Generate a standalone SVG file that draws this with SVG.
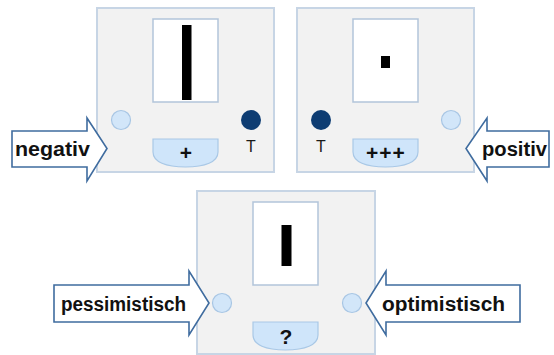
<svg xmlns="http://www.w3.org/2000/svg" width="554" height="355" viewBox="0 0 554 355">
<style>
.panel{fill:#f2f2f2;stroke:#c7d5e5;stroke-width:2}
.screen{fill:#ffffff;stroke:#b2c5da;stroke-width:1.5}
.bar{fill:#000000}
.lite{fill:#d2e6f9;stroke:#a8c6e4;stroke-width:1.2}
.dark{fill:#0e3d73}
.pill{fill:#cfe5fa;stroke:#a9c8e6;stroke-width:1.2}
.lbl{font-family:"Liberation Sans",Arial,sans-serif;font-size:16px;fill:#1a1a1a}
.sym{font-family:"Liberation Sans",Arial,sans-serif;font-size:21px;font-weight:bold;fill:#111111;text-anchor:middle}
.arrow{fill:#ffffff;stroke:#3f6c9f;stroke-width:1.6;stroke-linejoin:miter}
.word{font-family:"Liberation Sans",Arial,sans-serif;font-size:20px;font-weight:bold;fill:#111111}
</style>
<g id="panel-negativ">
<rect class="panel" x="97" y="8" width="177" height="164"/>
<rect class="screen" x="153" y="19" width="65" height="83"/>
<rect class="bar" x="182" y="25" width="9.5" height="75"/>
<circle class="lite" cx="121" cy="120" r="9.5"/>
<circle class="dark" cx="251" cy="120" r="10"/>
<text class="lbl" x="251" y="152" text-anchor="middle">T</text>
<path class="pill" d="M153 139 H218 V152 C218 162 205 167 185.5 167 C166 167 153 162 153 152 Z"/>
<text class="sym" x="186" y="160">+</text>
</g>
<g id="panel-positiv">
<rect class="panel" x="297" y="8" width="177" height="164"/>
<rect class="screen" x="353" y="19" width="65" height="83"/>
<rect class="bar" x="381" y="56" width="9" height="12"/>
<circle class="dark" cx="321" cy="120" r="10"/>
<circle class="lite" cx="451" cy="120" r="9.5"/>
<text class="lbl" x="321" y="152" text-anchor="middle">T</text>
<path class="pill" d="M353 139 H418 V152 C418 162 405 167 385.5 167 C366 167 353 162 353 152 Z"/>
<text class="sym" x="386" y="160" letter-spacing="1">+++</text>
</g>
<g id="panel-unknown">
<rect class="panel" x="197" y="191" width="178" height="163"/>
<rect class="screen" x="253" y="202" width="65" height="83"/>
<rect class="bar" x="281.5" y="225" width="10" height="41"/>
<circle class="lite" cx="222" cy="303" r="9.5"/>
<circle class="lite" cx="352" cy="303" r="9.5"/>
<path class="pill" d="M253 322 H318 V335 C318 345 305 350 285.5 350 C266 350 253 345 253 335 Z"/>
<text class="sym" x="286" y="344">?</text>
</g>
<g id="connectors">
<g id="arrow-negativ">
<path class="arrow" d="M12 131 H87 V118 L107 148.5 L87 181 V167 H12 Z"/>
<text class="word" x="15" y="156" textLength="75" lengthAdjust="spacingAndGlyphs">negativ</text>
</g>
<g id="arrow-positiv">
<path class="arrow" d="M549 131 H487 V118 L466 148.5 L487 181 V167 H549 Z"/>
<text class="word" x="482" y="156" textLength="65" lengthAdjust="spacingAndGlyphs">positiv</text>
</g>
<g id="arrow-pessimistisch">
<path class="arrow" d="M54 285 H189 V271 L209 303 L189 335 V322 H54 Z"/>
<text class="word" x="61" y="311" textLength="125" lengthAdjust="spacingAndGlyphs">pessimistisch</text>
</g>
<g id="arrow-optimistisch">
<path class="arrow" d="M520 285 H386 V271 L366 303 L386 335 V322 H520 Z"/>
<text class="word" x="382" y="311" textLength="123" lengthAdjust="spacingAndGlyphs">optimistisch</text>
</g>
</g>
</svg>
